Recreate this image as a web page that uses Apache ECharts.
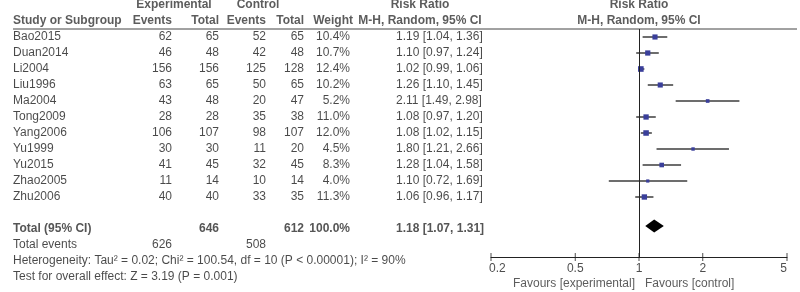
<!DOCTYPE html>
<html><head><meta charset="utf-8">
<script src="https://cdn.jsdelivr.net/npm/echarts@6/dist/echarts.min.js"></script>
<style>html,body{margin:0;padding:0;background:#fff}#c{width:800px;height:292px}</style>
</head><body><div id="c"></div>
<script>
// ---------- data ----------
const studies   = ['Bao2015','Duan2014','Li2004','Liu1996','Ma2004','Tong2009','Yang2006','Yu1999','Yu2015','Zhao2005','Zhu2006'];
const expEvents = [62, 46, 156, 63, 43, 28, 106, 30, 41, 11, 40];
const expTotal  = [65, 48, 156, 65, 48, 28, 107, 30, 45, 14, 40];
const ctlEvents = [52, 42, 125, 50, 20, 35, 98, 11, 32, 10, 33];
const ctlTotal  = [65, 48, 128, 65, 47, 38, 107, 20, 45, 14, 35];
const weights   = [10.4, 10.7, 12.4, 10.2, 5.2, 11.0, 12.0, 4.5, 8.3, 4.0, 11.3];
const rr        = [1.19, 1.10, 1.02, 1.26, 2.11, 1.08, 1.08, 1.80, 1.28, 1.10, 1.06];
const ciLow     = [1.04, 0.97, 0.99, 1.10, 1.49, 0.97, 1.02, 1.21, 1.04, 0.72, 0.96];
const ciHigh    = [1.36, 1.24, 1.06, 1.45, 2.98, 1.20, 1.15, 2.66, 1.58, 1.69, 1.17];
const pooled    = [1.18, 1.07, 1.31];          // estimate, low, high
const totalsN   = [646, 612];                  // experimental, control participants
const totalsEv  = [626, 508];                  // experimental, control events
const totalWeight = 100.0;
const heterogeneityText = 'Heterogeneity: Tau\u00b2 = 0.02; Chi\u00b2 = 100.54, df = 10 (P < 0.00001); I\u00b2 = 90%';
const overallText = 'Test for overall effect: Z = 3.19 (P = 0.001)';
const tickValues = [0.2, 0.5, 1, 2, 5];
const tickLabels = ['0.2', '0.5', '1', '2', '5'];

// ---------- layout ----------
const FONT = '"Liberation Sans", Arial, sans-serif';
const W = 800, H = 292;
const ROW0 = 37, ROWH = 16;
const tableYMin = -ROW0 / ROWH, tableYMax = (H - ROW0) / ROWH;
const plotTop = 29, plotBottom = 257, plotLeft = 491, plotRight = 787;
const plotYMin = (plotTop - ROW0) / ROWH, plotYMax = (plotBottom - ROW0) / ROWH;
const col = {name: 13, expE: 172, expT: 219, ctlE: 266, ctlT: 304, wt: 350, ci: 396, hdrRR: 420, plotC: 639};
const ROW_TOTAL = 12, ROW_EVENTS = 13, ROW_HET = 14, ROW_TEST = 15, ROW_FAV = 15.44;

const fmt2 = v => v.toFixed(2);
const ciText = (e, l, h) => fmt2(e) + ' [' + fmt2(l) + ', ' + fmt2(h) + ']';

function txt(items, align, bold, color) {
  return {
    type: 'scatter', xAxisIndex: 0, yAxisIndex: 0, symbolSize: 1, silent: true, clip: false,
    itemStyle: {color: 'rgba(0,0,0,0)'},
    data: items.map(it => ({value: [it[0], it[1]], name: String(it[2])})),
    label: {show: true, position: 'inside', align: align, verticalAlign: 'middle',
      formatter: p => p.name, fontFamily: FONT, fontSize: 12,
      fontWeight: bold ? 'bold' : 'normal', color: color || '#1c1c1c'}
  };
}

const series = [];
// header row 1
series.push(txt([[174, -2, 'Experimental'], [258, -2, 'Control'], [col.hdrRR, -2, 'Risk Ratio'], [col.plotC, -2, 'Risk Ratio']], 'center', true, '#333'));
// header row 2
series.push(txt([[col.name, -1, 'Study or Subgroup']], 'left', true, '#333'));
series.push(txt([[col.expE, -1, 'Events'], [col.expT, -1, 'Total'], [col.ctlE, -1, 'Events'], [col.ctlT, -1, 'Total'], [353, -1, 'Weight']], 'right', true, '#333'));
series.push(txt([[col.hdrRR, -1, 'M-H, Random, 95% CI'], [col.plotC, -1, 'M-H, Random, 95% CI']], 'center', true, '#333'));
// header underline
series.push({type: 'line', xAxisIndex: 0, yAxisIndex: 0, symbol: 'none', silent: true,
  data: [[col.name, (plotTop - ROW0) / ROWH], [797, (plotTop - ROW0) / ROWH]],
  lineStyle: {color: '#444', width: 1}});
// study rows
series.push(txt(studies.map((s, i) => [col.name, i, s]), 'left'));
series.push(txt(studies.map((s, i) => [col.expE, i, expEvents[i]])
  .concat(studies.map((s, i) => [col.expT, i, expTotal[i]]))
  .concat(studies.map((s, i) => [col.ctlE, i, ctlEvents[i]]))
  .concat(studies.map((s, i) => [col.ctlT, i, ctlTotal[i]]))
  .concat(studies.map((s, i) => [col.wt, i, weights[i].toFixed(1) + '%'])), 'right'));
series.push(txt(studies.map((s, i) => [col.ci, i, ciText(rr[i], ciLow[i], ciHigh[i])]), 'left'));
// total row
series.push(txt([[col.name, ROW_TOTAL, 'Total (95% CI)'], [col.ci, ROW_TOTAL, ciText(pooled[0], pooled[1], pooled[2])]], 'left', true, '#2a2a2a'));
series.push(txt([[col.expT, ROW_TOTAL, totalsN[0]], [col.ctlT, ROW_TOTAL, totalsN[1]], [col.wt, ROW_TOTAL, totalWeight.toFixed(1) + '%']], 'right', true, '#2a2a2a'));
// totals events, heterogeneity, test
series.push(txt([[col.name, ROW_EVENTS, 'Total events'], [col.name, ROW_HET, heterogeneityText], [col.name, ROW_TEST, overallText]], 'left'));
series.push(txt([[col.expE, ROW_EVENTS, totalsEv[0]], [col.ctlE, ROW_EVENTS, totalsEv[1]]], 'right'));
// favours
series.push(txt([[635, ROW_FAV, 'Favours [experimental]']], 'right', false, '#333'));
series.push(txt([[645, ROW_FAV, 'Favours [control]']], 'left', false, '#333'));

// forest: CI lines + squares
series.push({
  type: 'custom', xAxisIndex: 1, yAxisIndex: 1, silent: true,
  data: studies.map((s, i) => [i, ciLow[i], ciHigh[i], rr[i], weights[i]]),
  encode: {x: [1, 2, 3], y: 0},
  renderItem: (params, api) => {
    const y = api.value(0);
    const a = api.coord([api.value(1), y]);
    const b = api.coord([api.value(2), y]);
    const c = api.coord([api.value(3), y]);
    const s = Math.sqrt(api.value(4)) * 1.6;
    return {type: 'group', children: [
      {type: 'line', shape: {x1: a[0], y1: a[1], x2: b[0], y2: b[1]}, style: {stroke: '#3c3c3c', lineWidth: 1.5}},
      {type: 'rect', shape: {x: c[0] - s / 2, y: c[1] - s / 2, width: s, height: s}, style: {fill: '#3a3f9a'}}
    ]};
  }
});
// pooled diamond
series.push({
  type: 'custom', xAxisIndex: 1, yAxisIndex: 1, silent: true,
  data: [[ROW_TOTAL, pooled[1], pooled[2], pooled[0]]],
  encode: {x: [1, 2, 3], y: 0},
  renderItem: (params, api) => {
    const y = api.value(0);
    const l = api.coord([api.value(1), y]);
    const r = api.coord([api.value(2), y]);
    const m = api.coord([api.value(3), y]);
    const h = 6.5, dy = -3;
    return {type: 'polygon', shape: {points: [[l[0], l[1] + dy], [m[0], m[1] + dy - h], [r[0], r[1] + dy], [m[0], m[1] + dy + h]]}, style: {fill: '#000'}};
  }
});
// axis ticks + labels + line of no effect
series.push({
  type: 'scatter', xAxisIndex: 1, yAxisIndex: 1, silent: true, clip: false,
  symbol: 'rect', symbolSize: [1, 8], itemStyle: {color: '#222'},
  data: tickValues.map((v, i) => ({
    value: [v, plotYMax],
    label: {align: i === 0 ? 'left' : (i === tickValues.length - 1 ? 'right' : 'center'), offset: i === 0 ? [-2, 0] : [0, 0]}
  })),
  label: {show: true, position: 'bottom', distance: 2, formatter: p => tickLabels[p.dataIndex],
    fontFamily: FONT, fontSize: 12, color: '#222'},
  markLine: {silent: true, symbol: 'none', label: {show: false}, animation: false,
    lineStyle: {color: '#222', width: 1, type: 'solid'}, data: [{xAxis: 1}]}
});

const option = {
  animation: false,
  backgroundColor: '#fff',
  grid: [
    {left: 0, top: 0, width: W, height: H},
    {left: plotLeft, top: plotTop, width: plotRight - plotLeft, height: plotBottom - plotTop}
  ],
  xAxis: [
    {gridIndex: 0, type: 'value', min: 0, max: W, show: false},
    {gridIndex: 1, type: 'log', logBase: 10, min: 0.2, max: 5,
      axisLine: {show: true, onZero: false, lineStyle: {color: '#222', width: 1}},
      axisTick: {show: false}, axisLabel: {show: false}, splitLine: {show: false}}
  ],
  yAxis: [
    {gridIndex: 0, type: 'value', min: tableYMin, max: tableYMax, inverse: true, show: false},
    {gridIndex: 1, type: 'value', min: plotYMin, max: plotYMax, inverse: true, show: false}
  ],
  series: series
};
const chart = echarts.init(document.getElementById('c'), null, {renderer: 'canvas'});
chart.setOption(option);
</script></body></html>
